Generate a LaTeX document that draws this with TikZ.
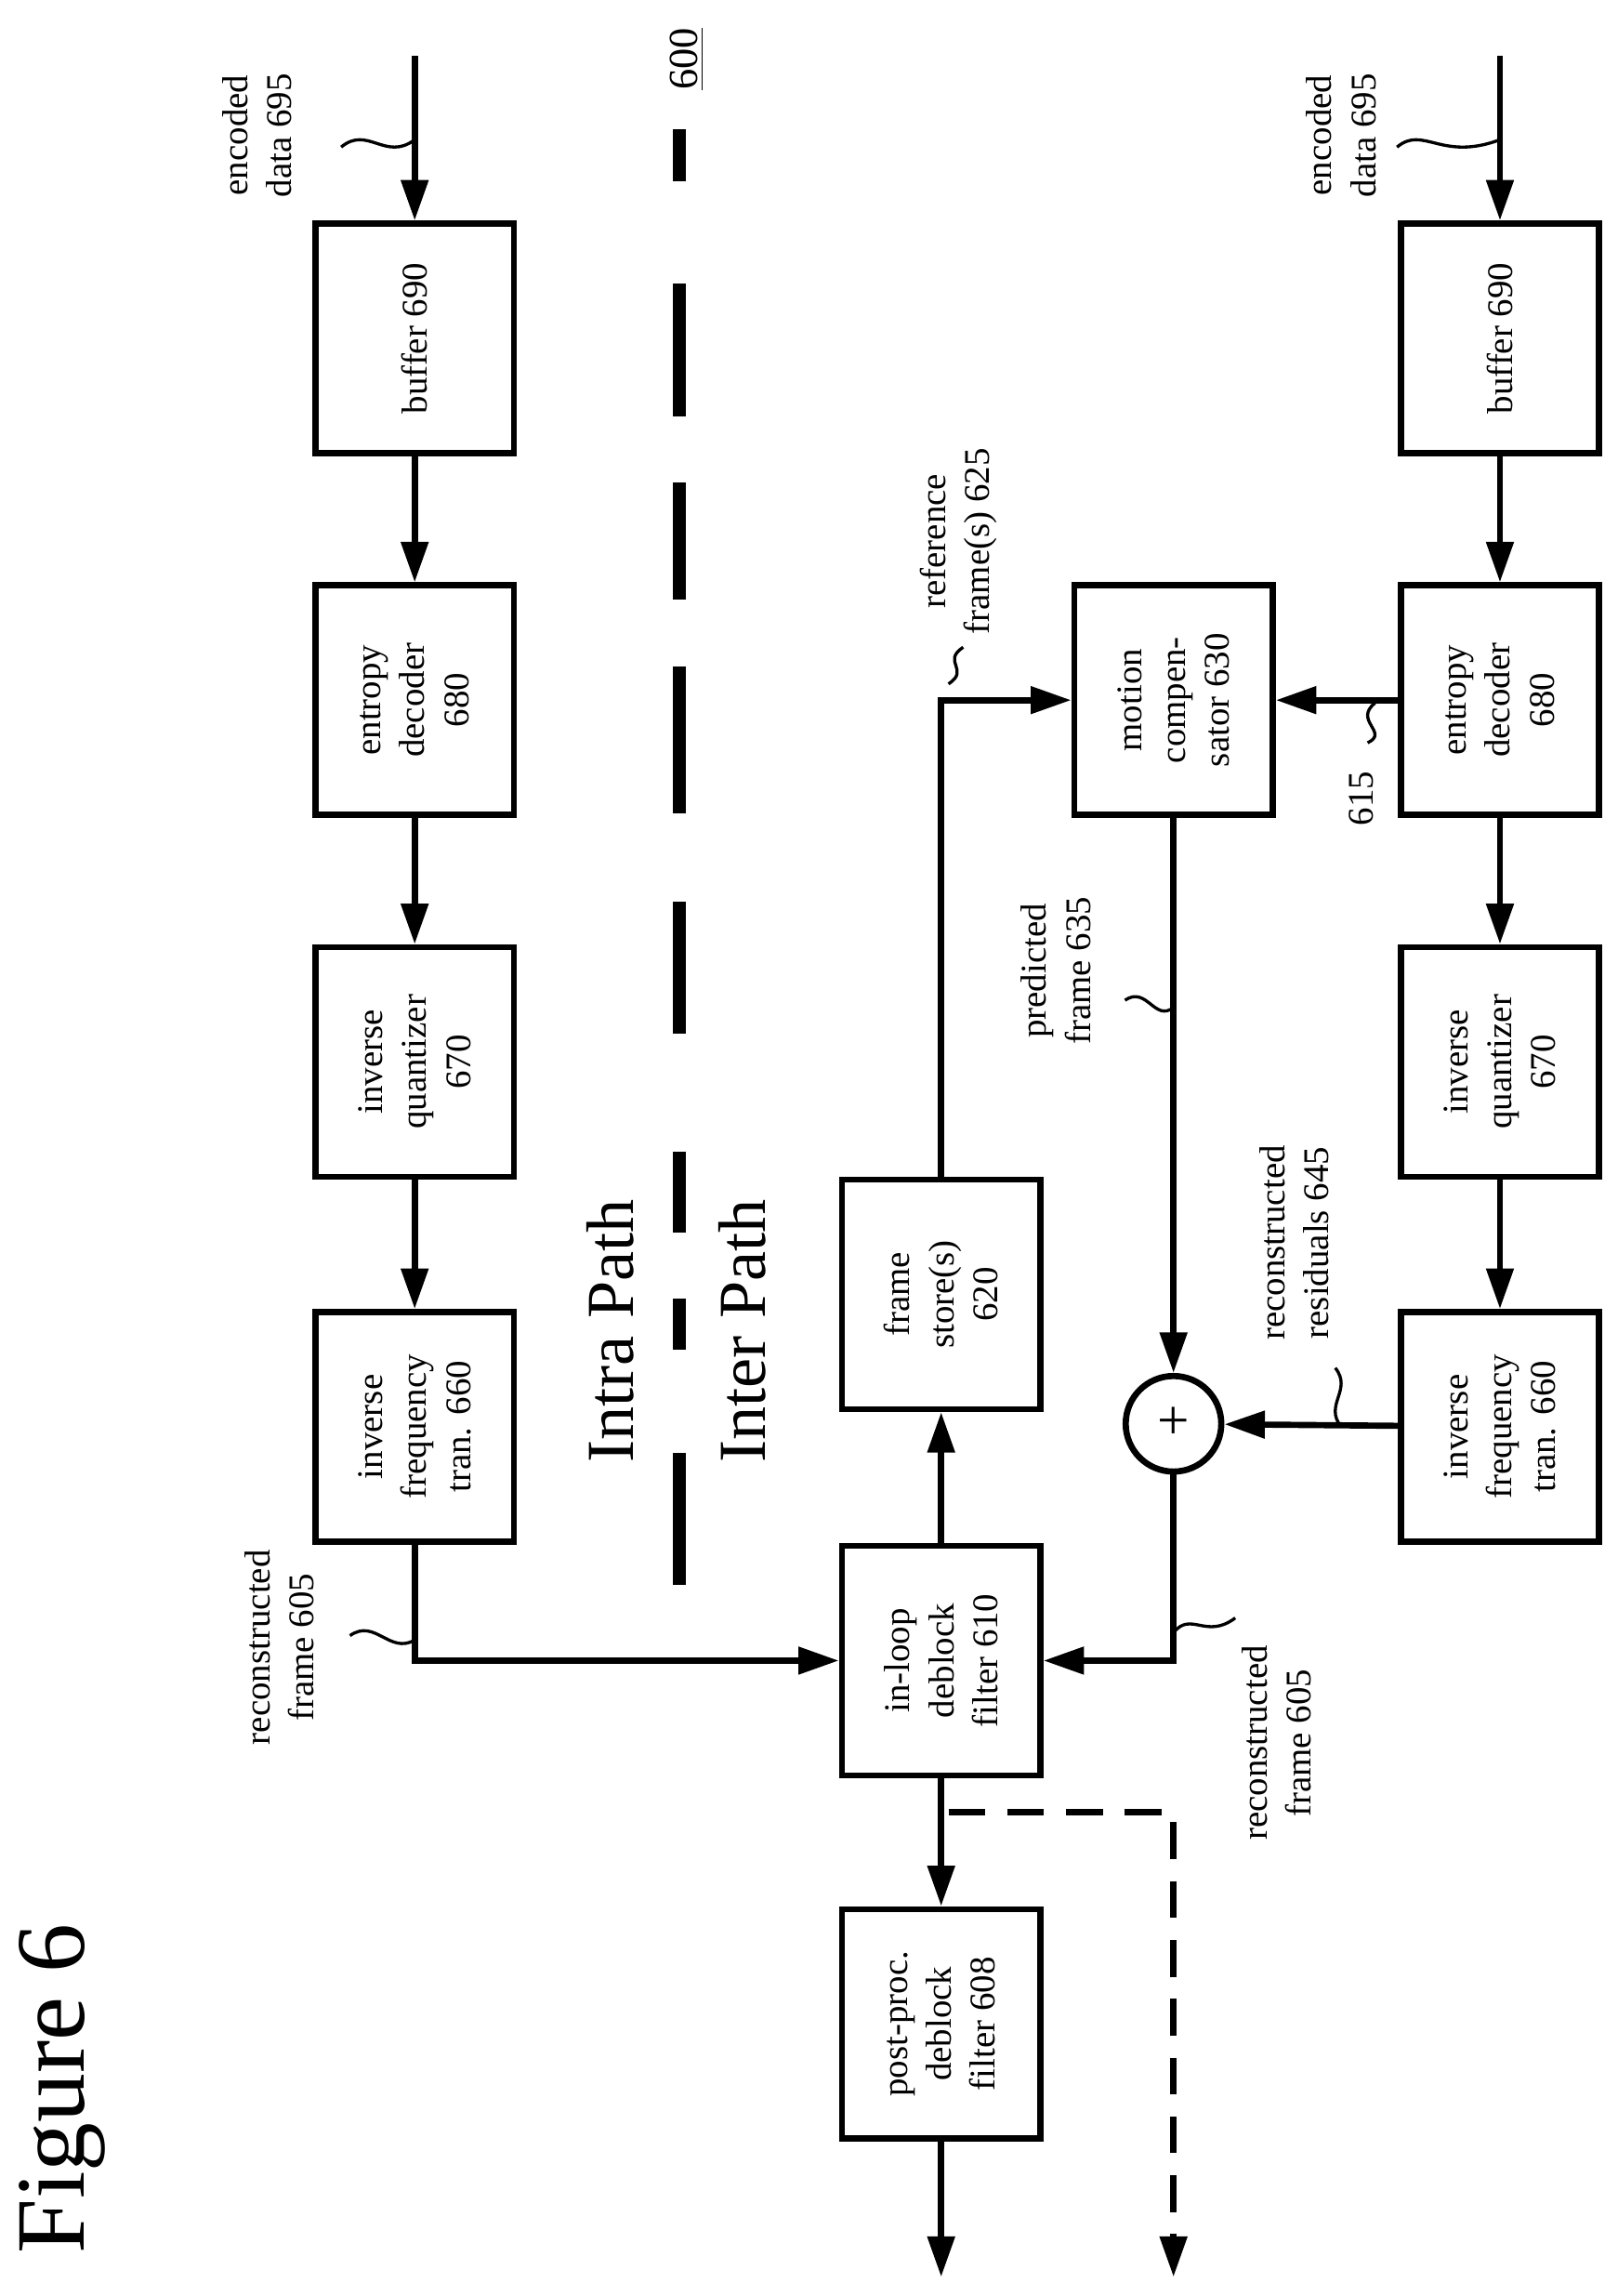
\documentclass[tikz,border=0pt]{standalone}
\usepackage{fontspec}
\setmainfont{Liberation Serif}
\usetikzlibrary{arrows.meta}

\begin{document}
\begin{tikzpicture}[x=0.02cm,y=-0.02cm,
    blk/.style={draw,line width=2.4pt,rotate=90,minimum width=3.12cm,minimum height=2.7cm,
        align=center,inner sep=2pt,font=\fontsize{14}{17}\selectfont},
    lbl/.style={rotate=90,align=center,font=\fontsize{14}{17}\selectfont},
    flow/.style={line width=2.4pt,-{Triangle[length=0.55cm,width=0.36cm]}},
    sq/.style={line width=1.2pt}]
        \useasboundingbox (0,0) rectangle (1100,1561);
        % intra path column
        \node[blk] (buf1) at (282,230) {buffer 690};
        \node[blk] (dec1) at (282,476) {entropy\\decoder\\680};
        \node[blk] (iq1) at (282,722) {inverse\\quantizer\\670};
        \node[blk] (ift1) at (282,970) {inverse\\frequency\\tran. 660};
        % inter path column
        \node[blk] (buf2) at (1020,230) {buffer 690};
        \node[blk] (dec2) at (1020,476) {entropy\\decoder\\680};
        \node[blk] (iq2) at (1020,722) {inverse\\quantizer\\670};
        \node[blk] (ift2) at (1020,970) {inverse\\frequency\\tran. 660};
        % shared blocks
        \node[blk] (mc) at (798,476) {motion\\compen-\\sator 630};
        \node[blk] (fs) at (640,880) {frame\\store(s)\\620};
        \node[blk] (dbk) at (640,1129) {in-loop\\deblock\\filter 610};
        \node[blk] (pp) at (640,1376) {post-proc.\\deblock\\filter 608};
        \node[draw,circle,line width=2.4pt,minimum size=1.3cm,inner sep=0pt,font=\fontsize{22}{22}\selectfont] (sum) at (798,968) {+};
        % free ends
        \coordinate (in1) at (282,38);
        \coordinate (in2) at (1020,38);
        \coordinate (out) at (640,1548);
        \coordinate (dsplit) at (645,1232);
        \coordinate (dout) at (798,1548);
        % connectors
        \draw[flow] (in1) -- (buf1);
        \draw[flow] (buf1) -- (dec1);
        \draw[flow] (dec1) -- (iq1);
        \draw[flow] (iq1) -- (ift1);
        \draw[flow] (in2) -- (buf2);
        \draw[flow] (buf2) -- (dec2);
        \draw[flow] (dec2) -- (iq2);
        \draw[flow] (iq2) -- (ift2);
        \draw[flow] (ift1) |- (dbk);
        \draw[flow] (dbk) -- (fs);
        \draw[flow] (fs) |- (mc);
        \draw[flow] (dec2) -- (mc);
        \draw[flow] (mc) -- (sum);
        \draw[flow] (ift2) -- (sum);
        \draw[flow] (sum) |- (dbk);
        \draw[flow] (dbk) -- (pp);
        \draw[flow] (pp) -- (out);
        \draw[flow,dash pattern=on 0.5cm off 0.3cm] (dsplit) -| (dout);
        % path divider
        \draw[line width=5pt,dash pattern=on 0.7cm off 1.4cm on 1.8cm off 0.9cm on 1.6cm off 0.9cm on 2cm off 1.2cm on 1.8cm off 1.6cm on 1.1cm off 0.9cm] (462,88) -- (462,1090);
        \node[rotate=90,font=\fontsize{16}{16}\selectfont] (num) at (467,40) {\underline{600}};
        \node[rotate=90,font=\fontsize{26}{26}\selectfont] (intra) at (415,905) {Intra Path};
        \node[rotate=90,font=\fontsize{26}{26}\selectfont] (inter) at (505,905) {Inter Path};
        \node[rotate=90,font=\fontsize{38}{38}\selectfont] (fig) at (42,1420) {Figure 6};
        % labels
        \node[lbl] (l695a) at (175,92) {encoded\\data 695};
        \draw[sq] (232,100) .. controls (250,85) and (262,110) .. (282,95);
        \node[lbl] (l695b) at (912,92) {encoded\\data 695};
        \draw[sq] (950,100) .. controls (968,85) and (980,110) .. (1020,95);
        \node[lbl] (l605a) at (190,1120) {reconstructed\\frame 605};
        \draw[sq] (238,1112) .. controls (255,1100) and (265,1125) .. (282,1115);
        \node[lbl] (l625) at (652,368) {reference\\frame(s) 625};
        \draw[sq] (645,465) .. controls (660,455) and (640,450) .. (655,440);
        \node[lbl] (l615) at (926,543) {615};
        \draw[sq] (930,505) .. controls (945,498) and (920,490) .. (935,478);
        \node[lbl] (l635) at (718,660) {predicted\\frame 635};
        \draw[sq] (765,680) .. controls (780,670) and (785,695) .. (798,685);
        \node[lbl] (l645) at (880,845) {reconstructed\\residuals 645};
        \draw[sq] (908,930) .. controls (920,945) and (900,955) .. (912,970);
        \node[lbl] (l605b) at (868,1185) {reconstructed\\frame 605};
        \draw[sq] (798,1110) .. controls (810,1095) and (820,1115) .. (840,1100);
\end{tikzpicture}
\end{document}
